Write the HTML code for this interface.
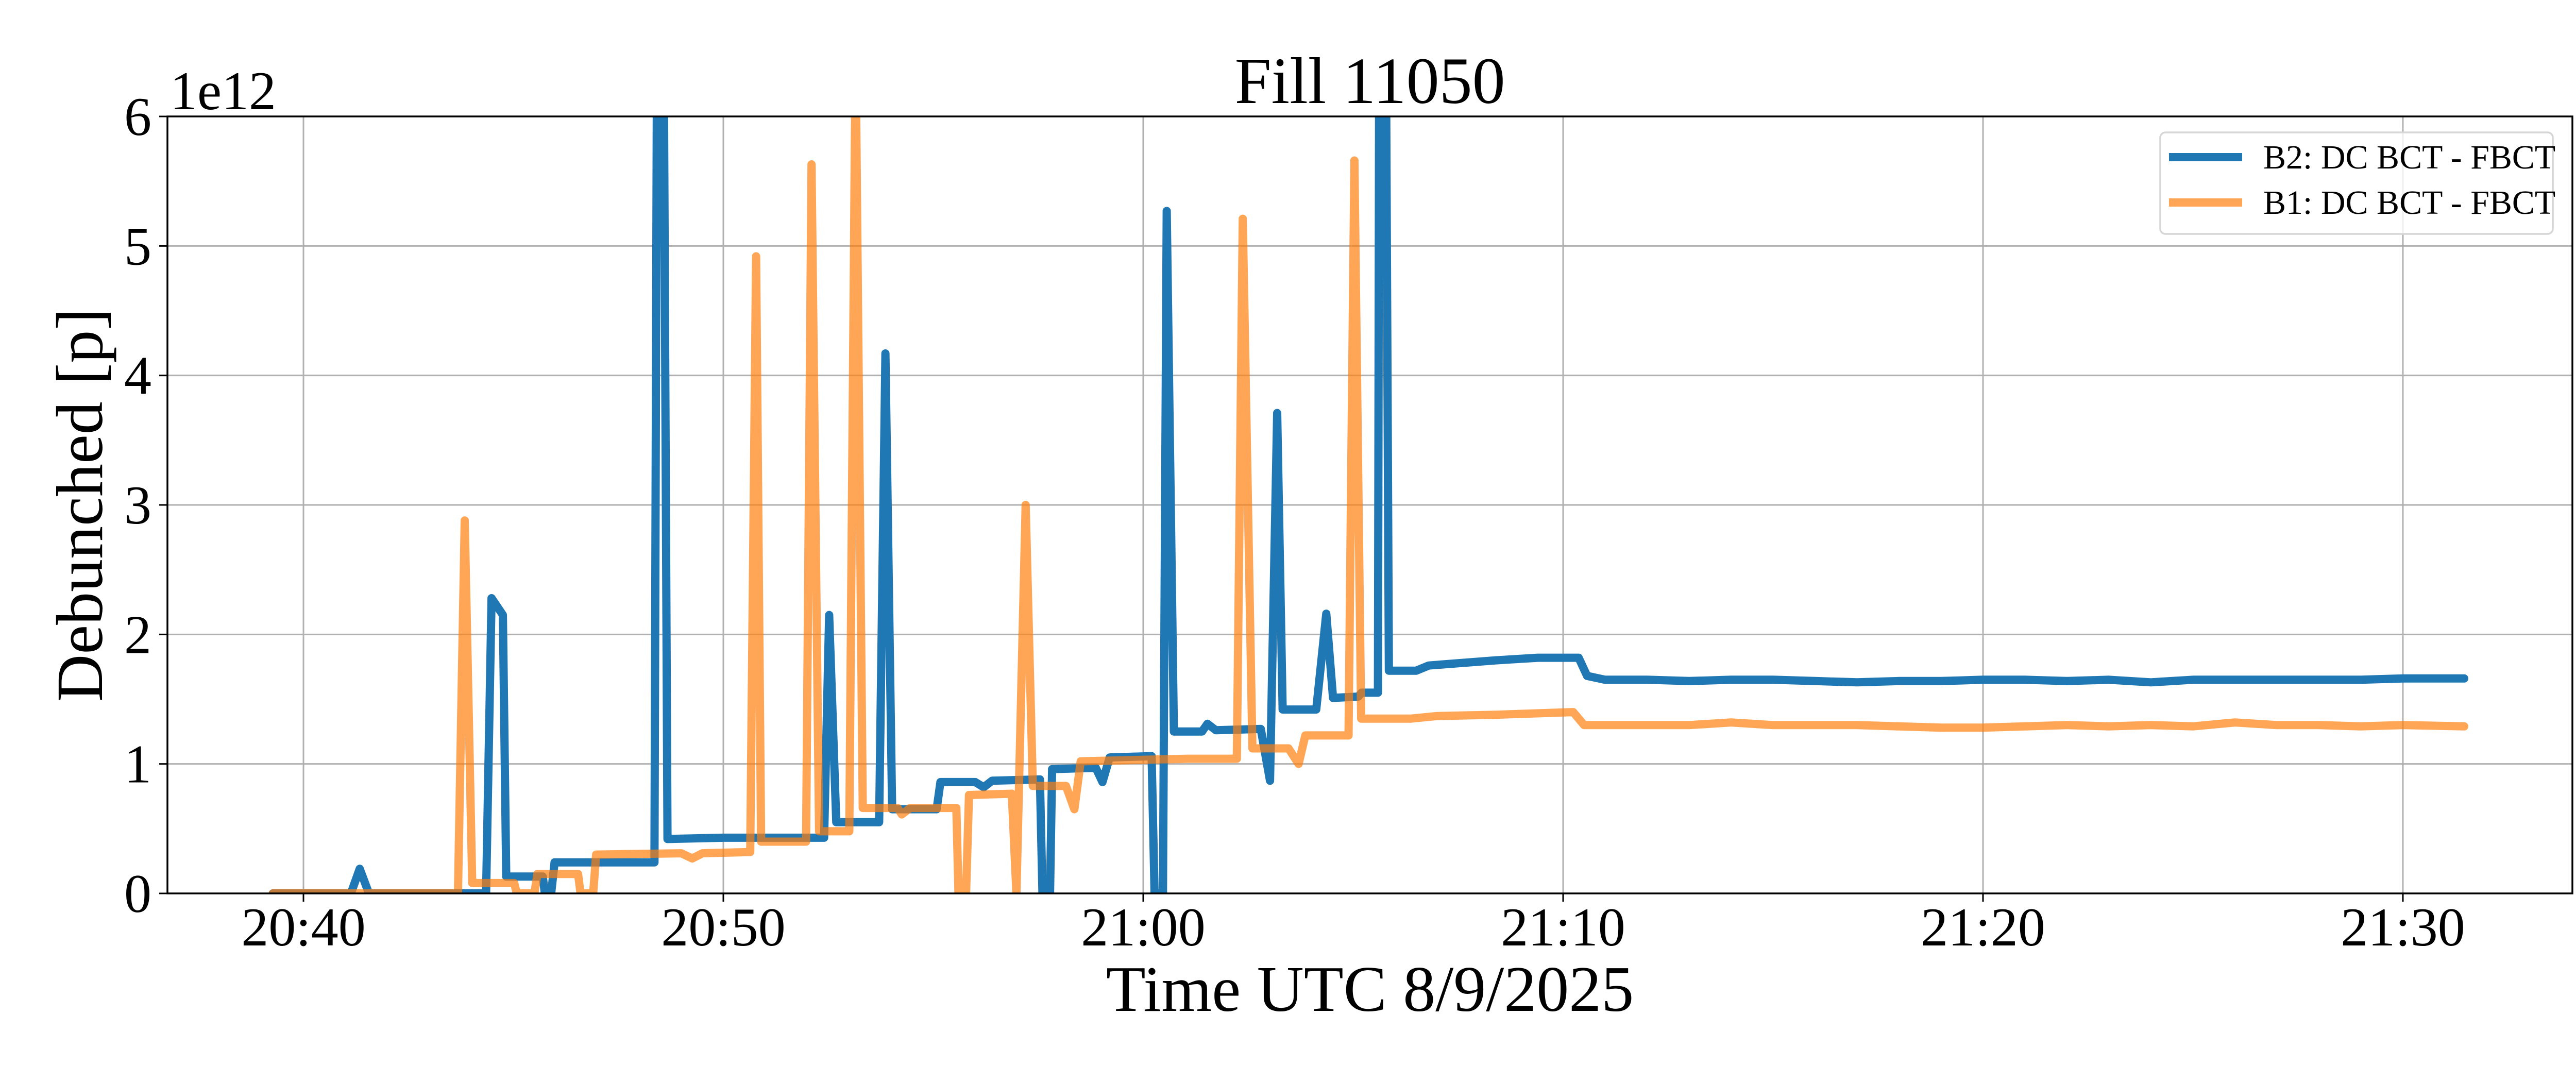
<!DOCTYPE html>
<html><head><meta charset="utf-8"><style>
html,body{margin:0;padding:0;background:#fff;}
svg{display:block;font-family:"Liberation Serif",serif;}
</style></head><body>
<svg id="chart" width="5100" height="2100" viewBox="0 0 5100 2100">
<defs><clipPath id="plotclip"><rect x="325" y="226" width="4668" height="1508"/></clipPath></defs>
<rect x="0" y="0" width="5100" height="2100" fill="#fff"/>
<g id="grid"></g>
<g id="series" clip-path="url(#plotclip)"></g>
<rect x="325" y="226" width="4668" height="1508" fill="none" stroke="#000" stroke-width="3.5"/>
<g id="ticks"></g>
<text x="2659" y="200" font-size="128" text-anchor="middle">Fill 11050</text>
<text x="2659" y="1962" font-size="126" text-anchor="middle">Time UTC 8/9/2025</text>
<text x="0" y="0" font-size="128" text-anchor="middle" transform="translate(198,980) rotate(-90)">Debunched [p]</text>
<text x="330" y="212" font-size="106">1e12</text>
<g>
<rect x="4193" y="257" width="762" height="197" rx="10" fill="#fff" fill-opacity="0.8" stroke="#d6d6d6" stroke-width="3.5"/>
<line x1="4210" y1="305" x2="4352" y2="305" stroke="#1f77b4" stroke-width="16"/>
<text x="4393" y="327" font-size="66">B2: DC BCT - FBCT</text>
<line x1="4210" y1="393" x2="4352" y2="393" stroke="#ff7f0e" stroke-opacity="0.7" stroke-width="16"/>
<text x="4393" y="415" font-size="66">B1: DC BCT - FBCT</text>
</g>
</svg>
<script>
// minutes since 20:40 UTC; values in units of 1e12
const b2Times = [-0.73,1.13,1.34,1.56,4.35,4.48,4.75,4.83,5.7,5.75,5.9,5.98,8.36,8.42,8.58,8.67,10,12.4,12.52,12.69,13.71,13.86,14.02,15.08,15.17,16.0,16.2,16.4,17.54,17.6,17.78,17.83,18.87,19.03,19.2,20.2,20.27,20.47,20.56,20.73,21.4,21.53,21.73,22.8,23.02,23.19,23.32,24.12,24.36,24.52,25.12,25.2,25.59,25.62,25.78,25.85,26.5,26.8,27.6,28.4,29.4,30.37,30.57,31.0,32,33,34,35,36,37,38,39,40,41,42,43,44,45,46,47,48,49,50,51.46];
const b2Values = [0,0,0.19,0,0,2.28,2.15,0.13,0.13,0,0,0.24,0.24,6.5,6.5,0.42,0.43,0.43,2.15,0.55,0.55,4.17,0.65,0.65,0.86,0.86,0.82,0.87,0.88,0,0,0.96,0.97,0.86,1.05,1.06,0,0,5.27,1.25,1.25,1.31,1.26,1.27,0.87,3.71,1.42,1.42,2.16,1.51,1.52,1.55,1.55,6.5,6.5,1.72,1.72,1.76,1.78,1.80,1.82,1.82,1.68,1.65,1.65,1.64,1.65,1.65,1.64,1.63,1.64,1.64,1.65,1.65,1.64,1.65,1.63,1.65,1.65,1.65,1.65,1.65,1.66,1.66];
const b1Times = [-0.73,3.68,3.84,4.02,5.02,5.08,5.5,5.57,6.54,6.6,6.9,6.97,9.0,9.26,9.5,10.64,10.78,10.9,11.97,12.1,12.28,13.0,13.15,13.32,14.15,14.25,14.45,15.55,15.6,15.78,15.85,16.87,16.98,17.2,17.37,18.16,18.36,18.51,21.06,22.23,22.37,22.6,23.46,23.7,23.86,24.89,25.03,25.19,26.38,27.0,28.4,30.24,30.5,31.5,33,34,35,36,37,38,39,40,41,42,43,44,45,46,47,48,49,50,51.46];
const b1Values = [0,0,2.88,0.08,0.08,0,0,0.15,0.15,0,0,0.30,0.31,0.27,0.31,0.32,4.92,0.40,0.40,5.63,0.48,0.48,6.5,0.66,0.66,0.61,0.66,0.66,0,0,0.76,0.77,0,3.0,0.83,0.83,0.65,1.02,1.04,1.04,5.21,1.12,1.12,1.0,1.22,1.22,5.66,1.35,1.35,1.37,1.38,1.40,1.30,1.30,1.30,1.32,1.30,1.30,1.30,1.29,1.28,1.28,1.29,1.30,1.29,1.30,1.29,1.32,1.30,1.30,1.29,1.30,1.29];
const xTickMinutes = [0,10,20,30,40,50];
const xTickLabels = ["20:40","20:50","21:00","21:10","21:20","21:30"];
const yTickValues = [0,1,2,3,4,5,6];
const yTickLabels = ["0","1","2","3","4","5","6"];

const NS = "http://www.w3.org/2000/svg";
const X0 = 589, PXPERMIN = 81.5, Y0 = 1734, PXPERUNIT = 251.33;
function xs(t){ return X0 + t*PXPERMIN; }
function ys(v){ return Y0 - v*PXPERUNIT; }
const grid = document.getElementById('grid');
const ticks = document.getElementById('ticks');
const series = document.getElementById('series');
function mk(tag, attrs, parent){ const e=document.createElementNS(NS,tag); for(const k in attrs) e.setAttribute(k,attrs[k]); parent.appendChild(e); return e; }

xTickMinutes.forEach((m,i)=>{
  const x = xs(m);
  const g = mk('line',{x1:x,y1:226,x2:x,y2:1734,stroke:'#b0b0b0','stroke-width':3},grid);
  
  
  const t = mk('line',{x1:x,y1:1734,x2:x,y2:1750,stroke:'#000','stroke-width':3},ticks);
  
  
  const l = mk('text',{x:x,y:1835,'font-size':106,'text-anchor':'middle'},ticks);
  l.textContent = xTickLabels[i];
  
  
});
yTickValues.forEach((v,i)=>{
  const y = ys(v);
  const g = mk('line',{x1:325,y1:y,x2:4993,y2:y,stroke:'#b0b0b0','stroke-width':3},grid);
  
  
  const t = mk('line',{x1:309,y1:y,x2:325,y2:y,stroke:'#000','stroke-width':3},ticks);
  
  
  const l = mk('text',{x:294,y:y+36,'font-size':106,'text-anchor':'end'},ticks);
  l.textContent = yTickLabels[i];
  
  
});
function drawLine(times, values, color, opacity, name){
  const pts = times.map((t,i)=>xs(t).toFixed(1)+','+ys(values[i]).toFixed(1)).join(' ');
  const p = mk('polyline',{points:pts,fill:'none',stroke:color,'stroke-opacity':opacity,'stroke-width':16,'stroke-linejoin':'round','stroke-linecap':'round'},series);
  
  
}
drawLine(b2Times,b2Values,'#1f77b4',1,'b2-line');
drawLine(b1Times,b1Values,'#ff7f0e',0.7,'b1-line');
</script>
</body></html>
